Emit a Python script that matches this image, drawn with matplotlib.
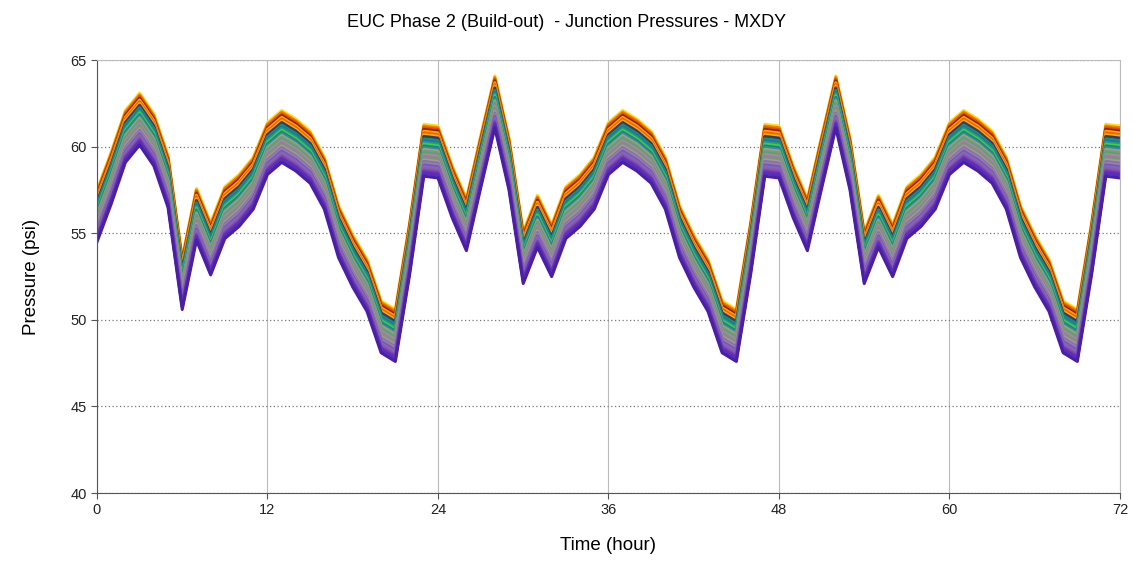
import numpy as np
import matplotlib.pyplot as plt

plt.rcParams['font.family'] = ['Liberation Sans', 'DejaVu Sans']

hours = np.arange(0, 73)

# upper envelope of the junction pressures (psi)
top_pressure = [57.4, 59.6, 62.0, 63.0, 61.8, 59.4, 53.5, 57.5, 55.5, 57.6,
                58.3, 59.3, 61.3, 62.0, 61.5, 60.8, 59.3, 56.5, 54.8, 53.4,
                51.0, 50.5, 55.5, 61.2, 61.1, 58.8, 56.9, 60.5, 64.0, 60.4,
                55.0, 57.1, 55.4, 57.6, 58.3, 59.3, 61.3, 62.0, 61.5, 60.8,
                59.3, 56.5, 54.8, 53.4, 51.0, 50.5, 55.5, 61.2, 61.1, 58.8,
                56.9, 60.5, 64.0, 60.4, 55.0, 57.1, 55.4, 57.6, 58.3, 59.3,
                61.3, 62.0, 61.5, 60.8, 59.3, 56.5, 54.8, 53.4, 51.0, 50.5,
                55.5, 61.2, 61.1]

# each junction sits a roughly constant head below the top one
junction_offsets = [0.1, 0.0, -0.1, -0.2, -0.3, -0.4, -0.5, -0.6, -0.75, -0.85,
                    -0.95, -1.05, -1.15, -1.25, -1.35, -1.45, -1.55, -1.65, -1.75,
                    -1.85, -1.95, -2.05, -2.15, -2.25, -2.35, -2.45, -2.55, -2.65,
                    -2.75, -2.9]

colors = ['#ffe600', '#ff7a00', '#e64a0a', '#7a2a10', '#ffa200', '#ff5a00',
          '#f0b000', '#2a3a8f', '#1f9a3a', '#1a6fd0', '#2aa060', '#3fcf3f',
          '#1f7f8f', '#4080c0', '#9ab040', '#8a8aa0', '#40b070', '#c08090',
          '#9080b0', '#70a060', '#b090a0', '#8070c0', '#a08090', '#6a5acd',
          '#9060c0', '#7a6a9a', '#8a40c0', '#6a30b0', '#5030c0', '#4a20a0']

fig = plt.figure(figsize=(11.33, 5.68), dpi=100)
ax = fig.add_axes([0.0856, 0.132, 0.9029, 0.762])

top = np.array(top_pressure)
for off, c in zip(junction_offsets, colors):
    ax.plot(hours, top + off, color=c, lw=2.2)

ax.set_xlim(0, 72)
ax.set_ylim(40, 65)
ax.set_xticks(range(0, 73, 12))
ax.set_yticks(range(40, 66, 5))
ax.tick_params(labelsize=10.5, length=4, color='#555555', labelcolor='#222222')
ax.yaxis.grid(True, color='#777777', ls=(0, (1, 2)), lw=0.9)
ax.xaxis.grid(True, color='#bbbbbb', ls='-', lw=0.8)
ax.set_axisbelow(True)
for s in ['left', 'bottom']:
    ax.spines[s].set_color('#555555')
for s in ['top', 'right']:
    ax.spines[s].set_color('#bbbbbb')

ax.set_xlabel('Time (hour)', fontsize=13.5, labelpad=14)
ax.set_ylabel('Pressure (psi)', fontsize=13.5, labelpad=22)
fig.suptitle('EUC Phase 2 (Build-out)  - Junction Pressures - MXDY', fontsize=13, x=0.5, y=0.975)

fig.savefig('out.png', dpi=100)
